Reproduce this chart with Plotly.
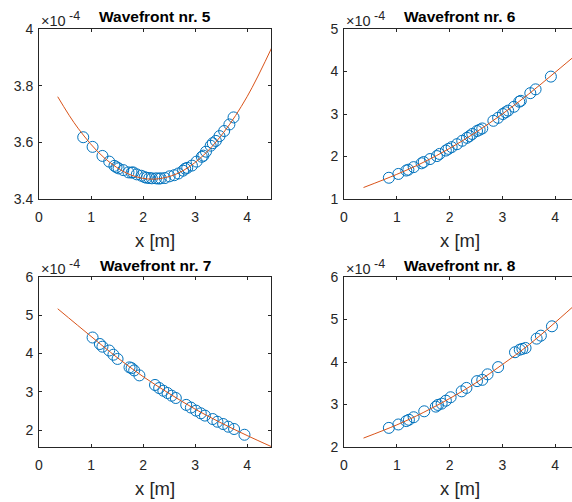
import plotly.graph_objects as go

# Measured positions x [m] and wavefront arrival (units of 1e-4) for each wavefront
x5 = [0.85, 1.03, 1.22, 1.35, 1.45, 1.49, 1.53, 1.62, 1.72, 1.78, 1.81, 1.88, 1.97,
      2.03, 2.07, 2.12, 2.17, 2.25, 2.30, 2.34, 2.42, 2.51, 2.60, 2.68, 2.77, 2.81,
      2.85, 2.94, 3.03, 3.13, 3.16, 3.21, 3.30, 3.34, 3.40, 3.47, 3.56, 3.66, 3.74]
y5 = [3.618, 3.584, 3.552, 3.532, 3.517, 3.512, 3.508, 3.502, 3.494, 3.493, 3.494,
      3.487, 3.482, 3.477, 3.475, 3.474, 3.473, 3.473, 3.472, 3.473, 3.474, 3.480,
      3.484, 3.490, 3.500, 3.507, 3.510, 3.518, 3.532, 3.549, 3.553, 3.567, 3.588,
      3.597, 3.605, 3.622, 3.640, 3.663, 3.688]

x6 = [0.85, 1.03, 1.18, 1.22, 1.32, 1.47, 1.51, 1.63, 1.76, 1.81, 1.93, 1.98, 2.04,
      2.14, 2.24, 2.33, 2.38, 2.43, 2.52, 2.57, 2.62, 2.83, 2.92, 3.01, 3.06, 3.11,
      3.22, 3.32, 3.35, 3.53, 3.63, 3.92]
y6 = [1.50, 1.59, 1.67, 1.69, 1.75, 1.84, 1.87, 1.94, 2.01, 2.06, 2.14, 2.18, 2.22,
      2.29, 2.37, 2.44, 2.48, 2.53, 2.60, 2.63, 2.66, 2.84, 2.91, 3.00, 3.04, 3.08,
      3.17, 3.29, 3.31, 3.49, 3.58, 3.88]

x7 = [1.03, 1.17, 1.22, 1.35, 1.43, 1.51, 1.74, 1.78, 1.83, 1.93, 2.23, 2.31, 2.39,
      2.47, 2.55, 2.63, 2.83, 2.92, 3.02, 3.11, 3.19, 3.34, 3.43, 3.54, 3.64, 3.75, 3.95]
y7 = [4.42, 4.25, 4.18, 4.08, 3.97, 3.86, 3.64, 3.62, 3.56, 3.43, 3.18, 3.10, 3.03,
      2.97, 2.90, 2.84, 2.66, 2.59, 2.51, 2.44, 2.38, 2.29, 2.22, 2.16, 2.09, 2.03, 1.88]

x8 = [0.85, 1.03, 1.18, 1.23, 1.32, 1.52, 1.74, 1.78, 1.85, 1.93, 2.02, 2.23, 2.32,
      2.52, 2.62, 2.72, 2.92, 3.24, 3.33, 3.38, 3.44, 3.65, 3.73, 3.94]
y8 = [2.45, 2.53, 2.61, 2.64, 2.70, 2.84, 2.95, 2.99, 3.02, 3.09, 3.17, 3.31, 3.39,
      3.55, 3.58, 3.71, 3.88, 4.23, 4.29, 4.31, 4.33, 4.55, 4.62, 4.84]

# Fitted wavefront curves (x [m], arrival in 1e-4 units)
fx5 = [0.36, 0.75, 1.25, 1.75, 2.2, 2.65, 3.1, 3.55, 4.0, 4.5]
fy5 = [3.761, 3.650, 3.546, 3.486, 3.470, 3.489, 3.544, 3.635, 3.761, 3.944]
fx6 = [0.37, 1.0, 1.5, 2.0, 2.5, 3.0, 3.5, 4.0, 4.5]
fy6 = [1.27, 1.58, 1.86, 2.19, 2.57, 3.00, 3.47, 3.98, 4.50]
fx7 = [0.36, 1.0, 1.5, 2.0, 2.5, 3.0, 3.5, 4.0, 4.5]
fy7 = [5.17, 4.45, 3.90, 3.40, 2.96, 2.55, 2.19, 1.86, 1.55]
fx8 = [0.37, 1.0, 1.5, 2.0, 2.5, 3.0, 3.5, 4.0, 4.5]
fy8 = [2.21, 2.52, 2.81, 3.14, 3.51, 3.94, 4.40, 4.93, 5.48]

titles = ["Wavefront nr. 5", "Wavefront nr. 6", "Wavefront nr. 7", "Wavefront nr. 8"]
y_ranges = [[3.4, 4.0], [1.0, 5.0], [1.56, 6.0], [2.0, 6.0]]
y_ticks = [[3.4, 3.6, 3.8, 4.0], [1, 2, 3, 4, 5], [2, 3, 4, 5, 6], [2, 3, 4, 5, 6]]
y_ticktext = [["3.4", "3.6", "3.8", "4"], ["1", "2", "3", "4", "5"],
              ["2", "3", "4", "5", "6"], ["2", "3", "4", "5", "6"]]
x_ticks = [0, 1, 2, 3, 4]

W, H = 572, 502
BLUE = "#0072BD"
ORANGE = "#D95319"
AX = "#262626"
FONT = "Liberation Sans, Arial, Helvetica, sans-serif"

# pixel boxes of the four axes: (left, right, top, bottom)
boxes = [(39, 271, 29, 199), (344, 572, 29, 199), (39, 271, 277, 447), (344, 572, 277, 447)]
x_ranges = [[0, 4.46], [0, 4.32], [0, 4.46], [0, 4.32]]

data_sets = [(x5, y5, fx5, fy5), (x6, y6, fx6, fy6), (x7, y7, fx7, fy7), (x8, y8, fx8, fy8)]


def px_x(p):
    return p / W


def px_y(p):
    return 1 - p / H


fig = go.Figure()
annotations = []
layout = {}
for i, ((xs, ys, fx, fy), (l, r, t, b)) in enumerate(zip(data_sets, boxes)):
    n = "" if i == 0 else str(i + 1)
    xa, ya = "x" + n, "y" + n
    fig.add_trace(go.Scatter(x=xs, y=ys, mode="markers", xaxis=xa, yaxis=ya,
                             marker=dict(symbol="circle-open", size=11, color=BLUE,
                                         line=dict(width=1, color=BLUE)),
                             showlegend=False))
    fig.add_trace(go.Scatter(x=fx, y=fy, mode="lines", xaxis=xa, yaxis=ya,
                             line=dict(color=ORANGE, width=1, shape="spline"),
                             showlegend=False))
    right_col = (i % 2 == 1)
    layout["xaxis" + n] = dict(
        domain=[px_x(l), px_x(r)], range=x_ranges[i], anchor=ya, automargin=False,
        tickvals=x_ticks, ticktext=[str(v) for v in x_ticks],
        ticks="inside", ticklen=3, tickcolor=AX, tickwidth=1,
        showline=True, linecolor=AX, linewidth=1, mirror="ticks",
        showgrid=False, zeroline=False, ticklabelstandoff=5,
        tickfont=dict(family=FONT, size=14, color=AX))
    layout["yaxis" + n] = dict(
        domain=[px_y(b), px_y(t)], range=y_ranges[i], anchor=xa, automargin=False,
        tickvals=y_ticks[i], ticktext=y_ticktext[i],
        ticks="inside", ticklen=3, tickcolor=AX, tickwidth=1,
        showline=True, linecolor=AX, linewidth=1,
        mirror=False if right_col else "ticks",
        showgrid=False, zeroline=False, ticklabelstandoff=2,
        tickfont=dict(family=FONT, size=14, color=AX))
    full_r = l + 232
    # subplot title
    annotations.append(dict(text="<b>" + titles[i] + "</b>", xref="paper", yref="paper",
                            x=px_x((l + full_r) / 2), y=px_y(t - 12),
                            xanchor="center", yanchor="middle", showarrow=False,
                            font=dict(family=FONT, size=15.5, color="black")))
    # axis multiplier: "×10" with raised exponent
    annotations.append(dict(text="×10", xref="paper", yref="paper",
                            x=px_x(l), y=px_y(t - 8),
                            xanchor="left", yanchor="middle", showarrow=False,
                            font=dict(family=FONT, size=14.5, color=AX)))
    annotations.append(dict(text="-4", xref="paper", yref="paper",
                            x=px_x(l + 28), y=px_y(t - 13),
                            xanchor="left", yanchor="middle", showarrow=False,
                            font=dict(family=FONT, size=12.5, color=AX)))
    # x-axis label
    annotations.append(dict(text="x [m]", xref="paper", yref="paper",
                            x=px_x((l + full_r) / 2), y=px_y(b + 41),
                            xanchor="center", yanchor="middle", showarrow=False,
                            font=dict(family=FONT, size=18.5, color=AX)))

fig.update_layout(template="none", width=W, height=H,
                  margin=dict(l=0, r=0, t=0, b=0, pad=0),
                  plot_bgcolor="white", paper_bgcolor="white",
                  annotations=annotations, **layout)

fig.write_html("out.html")
